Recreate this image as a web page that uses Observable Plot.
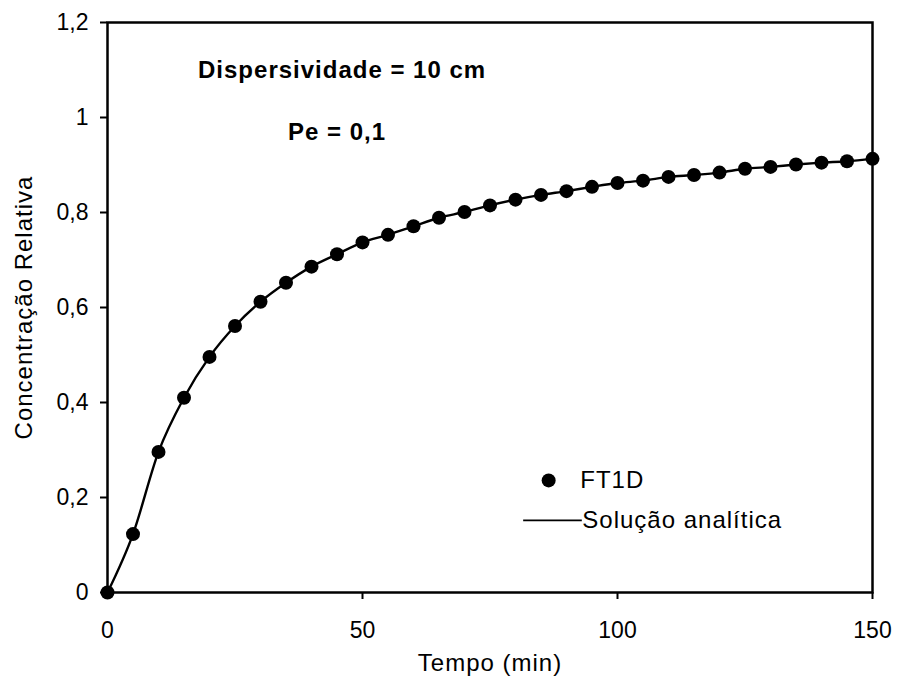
<!DOCTYPE html>
<html>
<head>
<meta charset="utf-8">
<script src="https://cdn.jsdelivr.net/npm/d3@7"></script>
<script src="https://cdn.jsdelivr.net/npm/@observablehq/plot@0.6"></script>
<style>
  html, body { margin: 0; padding: 0; background: #fff; }
  #chart svg { font-family: "Liberation Sans", Arial, Helvetica, sans-serif; }
  #chart svg g[aria-label="x-axis label"] text,
  #chart svg g[aria-label="y-axis label"] text,
  #chart svg .wide text { letter-spacing: 1px; }
</style>
</head>
<body>
<div id="chart"></div>
<script>
// Time (min)
const tempo = [0, 5, 10, 15, 20, 25, 30, 35, 40, 45, 50, 55, 60, 65, 70, 75, 80, 85, 90, 95, 100, 105, 110, 115, 120, 125, 130, 135, 140, 145, 150];
// FT1D relative concentration
const ft1d = [0, 0.123, 0.296, 0.41, 0.496, 0.561, 0.612, 0.652, 0.686, 0.712, 0.737, 0.753, 0.771, 0.789, 0.801, 0.815, 0.827, 0.837, 0.845, 0.854, 0.862, 0.867, 0.875, 0.879, 0.884, 0.892, 0.896, 0.901, 0.905, 0.908, 0.913];
// Analytic solution (curve through same times)
const analitica = [0, 0.123, 0.296, 0.41, 0.496, 0.561, 0.612, 0.652, 0.686, 0.712, 0.737, 0.753, 0.771, 0.789, 0.801, 0.815, 0.827, 0.837, 0.845, 0.854, 0.862, 0.867, 0.875, 0.879, 0.884, 0.892, 0.896, 0.901, 0.905, 0.908, 0.913];

const xTicks = [0, 50, 100, 150];
const yTicks = [0, 0.2, 0.4, 0.6, 0.8, 1, 1.2];

// Annotations (data coordinates)
const annoText = ["Dispersividade = 10 cm", "Pe = 0,1"];
const annoX = [46, 45];
const annoY = [1.1, 0.968];

// Legend entries (data coordinates)
const legendLabels = ["FT1D", "Solução analítica"];
const legendDot = {x: 86.5, y: 0.236};
const legendLine = {x1: 81.6, x2: 93.1, y: 0.152};

const pts = tempo.map((t, i) => ({t, c: ft1d[i]}));
const line = tempo.map((t, i) => ({t, c: analitica[i]}));
const annos = annoText.map((s, i) => ({s, x: annoX[i], y: annoY[i]}));

const fmt = d => String(+d.toFixed(1)).replace(".", ",");
const FS = 23;
const LS = 24;

const chart = Plot.plot({
  width: 899,
  height: 680,
  marginLeft: 107,
  marginRight: 27,
  marginTop: 22,
  marginBottom: 88,
  style: {fontFamily: '"Liberation Sans", Arial, sans-serif', fontSize: FS + "px", color: "#000", background: "#fff", overflow: "visible"},
  x: {domain: [0, 150]},
  y: {domain: [0, 1.2]},
  marks: [
    Plot.axisX({ticks: xTicks, tickSize: 7, tickPadding: 22, tickFormat: fmt, fontSize: FS, strokeWidth: 2, tickLabelAnchor: undefined}),
    Plot.axisX({ticks: [], label: "Tempo (min)", labelAnchor: "center", labelOffset: 78, labelArrow: "none", fontSize: LS}),
    Plot.axisY({ticks: yTicks, tickSize: 7, tickPadding: 12, tickFormat: fmt, fontSize: FS, strokeWidth: 2}),
    Plot.axisY({ticks: [], label: "Concentração Relativa", labelAnchor: "center", labelOffset: 93, labelArrow: "none", fontSize: LS}),
    Plot.frame({stroke: "#000", strokeWidth: 2.5}),
    Plot.line(line, {x: "t", y: "c", curve: "monotone-x", stroke: "#000", strokeWidth: 2.4, clip: false}),
    Plot.dot(pts, {x: "t", y: "c", r: 7, fill: "#000", stroke: "none"}),
    Plot.text(annos, {x: "x", y: "y", text: "s", fontWeight: "bold", fontSize: LS, fill: "#000", className: "wide"}),
    // legend
    Plot.dot([legendDot], {x: "x", y: "y", r: 7, fill: "#000"}),
    Plot.ruleY([legendLine], {x1: "x1", x2: "x2", y: "y", stroke: "#000", strokeWidth: 1.8}),
    Plot.text([legendLabels[0]], {x: legendLine.x2 - 0.4, y: legendDot.y, text: d => d, textAnchor: "start", fontSize: LS, fill: "#000", className: "wide"}),
    Plot.text([legendLabels[1]], {x: legendLine.x2, y: legendLine.y, text: d => d, textAnchor: "start", fontSize: LS, fill: "#000", className: "wide"})
  ]
});

document.getElementById("chart").appendChild(chart);
</script>
</body>
</html>
